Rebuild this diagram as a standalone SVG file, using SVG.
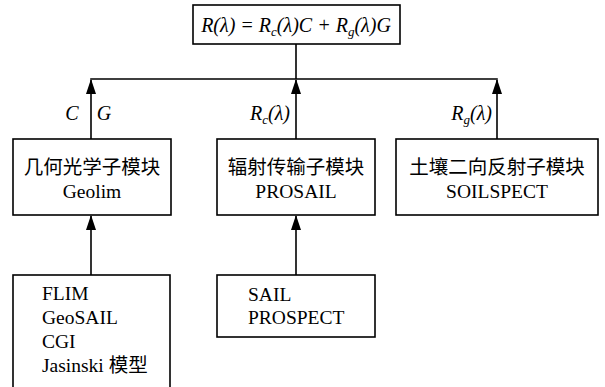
<svg xmlns="http://www.w3.org/2000/svg" width="605" height="387" viewBox="0 0 605 387">
<style>
.box{fill:#fff;stroke:#000;stroke-width:1.6}
.ln{fill:none;stroke:#000;stroke-width:1.6}
.t{font-family:"Liberation Serif","Noto Sans CJK SC",serif;font-size:19.5px;fill:#000}
.c{text-anchor:middle}
.i{font-family:"Liberation Serif","DejaVu Serif",serif;font-style:italic;font-size:20px;fill:#000}
.s{font-size:13px}
</style>
<defs>
<marker id="ah" viewBox="0 0 15 10" refX="14" refY="5" markerWidth="15" markerHeight="10" markerUnits="userSpaceOnUse" orient="auto">
<path d="M0,0 L15,5 L0,10 Z" fill="#000"/>
</marker>
</defs>
<rect width="605" height="387" fill="#fff"/>
<g id="connectors">
<path class="ln" d="M296,44 V79 M90.2,79 H497.8"/>
<path class="ln" d="M91,139 V80" marker-end="url(#ah)"/>
<path class="ln" d="M296,139 V80" marker-end="url(#ah)"/>
<path class="ln" d="M497,139 V80" marker-end="url(#ah)"/>
<path class="ln" d="M91,275 V216" marker-end="url(#ah)"/>
<path class="ln" d="M296,275 V216" marker-end="url(#ah)"/>
<text class="i" x="72" y="120" text-anchor="middle">C</text>
<text class="i" x="104" y="120" text-anchor="middle">G</text>
<text class="i" x="290" y="120" text-anchor="end">R<tspan class="s" dy="4">c</tspan><tspan dy="-4">(λ)</tspan></text>
<text class="i" x="492" y="120" text-anchor="end">R<tspan class="s" dy="4">g</tspan><tspan dy="-4">(λ)</tspan></text>
</g>
<g id="formula">
<rect class="box" x="193" y="5" width="207" height="39"/>
<text class="i" x="296" y="32" text-anchor="middle" font-size="21">R(λ) = R<tspan class="s" dy="4">c</tspan><tspan dy="-4">(λ)C + R</tspan><tspan class="s" dy="4">g</tspan><tspan dy="-4">(λ)G</tspan></text>
</g>
<g id="geolim">
<rect class="box" x="13" y="139" width="158" height="76"/>
<text class="t c" x="92" y="174">几何光学子模块</text>
<text class="t c" x="92" y="198">Geolim</text>
</g>
<g id="prosail">
<rect class="box" x="217" y="139" width="158" height="76"/>
<text class="t c" x="296" y="174">辐射传输子模块</text>
<text class="t c" x="296" y="198">PROSAIL</text>
</g>
<g id="soilspect">
<rect class="box" x="396" y="139" width="202" height="76"/>
<text class="t c" x="497" y="174">土壤二向反射子模块</text>
<text class="t c" x="497" y="198">SOILSPECT</text>
</g>
<g id="geo-models">
<rect class="box" x="13" y="275" width="157" height="120"/>
<text class="t" x="42" y="300">FLIM</text>
<text class="t" x="42" y="324">GeoSAIL</text>
<text class="t" x="42" y="348">CGI</text>
<text class="t" x="42" y="372">Jasinski 模型</text>
</g>
<g id="rt-models">
<rect class="box" x="217" y="275" width="158" height="62"/>
<text class="t" x="248" y="301">SAIL</text>
<text class="t" x="248" y="324">PROSPECT</text>
</g>
</svg>
